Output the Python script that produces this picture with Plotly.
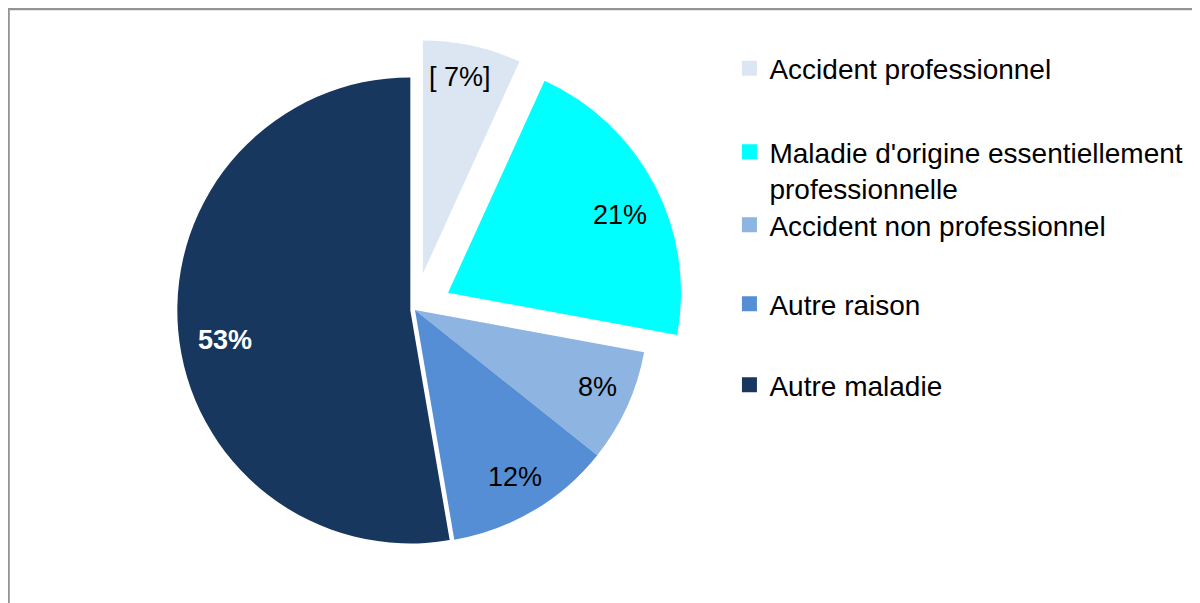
import math
import plotly.graph_objects as go

categories = [
    "Accident professionnel",
    "Maladie d'origine essentiellement<br>professionnelle",
    "Accident non professionnel",
    "Autre raison",
    "Autre maladie",
]
values = [6.8, 21.1, 7.8, 11.6, 52.7]
colors = ["#DCE6F2", "#00FFFF", "#8EB4E2", "#558ED5", "#17375E"]
label_formats = ["[ {}%]", "{}%", "{}%", "{}%", "<b>{}%</b>"]
label_colors = ["black", "black", "black", "black", "white"]
pulls = [0.16, 0.16, 0.0, 0.0, 0.02]

FONT = "Liberation Sans, Arial, sans-serif"
W, H = 1200, 603
DOM_X = [0.1139, 0.5644]
DOM_Y = [0.0509, 0.9474]
# label placement (fraction of radius from slice apex, angle tweak in degrees)
LABEL_R = [0.86, 0.81, 0.85, 0.835, 0.805]
LABEL_DA = [-1.5, 3.1, -1.6, -0.2, -4.1]

fig = go.Figure()
fig.add_trace(go.Pie(
    labels=categories,
    values=values,
    sort=False,
    direction="clockwise",
    rotation=0,
    pull=pulls,
    marker=dict(colors=colors, line=dict(width=0)),
    textinfo="none",
    showlegend=False,
    domain=dict(x=DOM_X, y=DOM_Y),
    hoverinfo="label+percent",
))

# slice labels placed along each slice's mid-angle (same geometry as plotly's pie)
box_w = W * (DOM_X[1] - DOM_X[0])
box_h = H * (DOM_Y[1] - DOM_Y[0])
r = min(box_w, box_h) / (2 + 2 * max(pulls))
cx = W * (DOM_X[0] + DOM_X[1]) / 2
cy = H * (1 - DOM_Y[0]) - box_h / 2
total = sum(values)
annotations = []
cum = 0.0
for i, (v, fmt, col, p) in enumerate(zip(values, label_formats, label_colors, pulls)):
    mid = (cum + v / 2) / total * 2 * math.pi
    cum += v
    # apex of the (possibly pulled) slice
    ax_, ay_ = cx + math.sin(mid) * p * r, cy - math.cos(mid) * p * r
    ang = mid + math.radians(LABEL_DA[i])
    px = ax_ + math.sin(ang) * LABEL_R[i] * r
    py = ay_ - math.cos(ang) * LABEL_R[i] * r
    annotations.append(dict(
        x=px / W, y=1 - py / H, xref="paper", yref="paper",
        text=fmt.format(round(v / total * 100)), showarrow=False,
        xanchor="center", yanchor="middle",
        font=dict(family=FONT, size=27, color=col),
    ))

legend_pos = [0.8997, 0.8027, 0.6402, 0.5091, 0.3748]
legend_names = ["legend", "legend2", "legend3", "legend4", "legend5"]
for i, (name, col) in enumerate(zip(categories, colors)):
    fig.add_trace(go.Scatter(
        x=[None], y=[None], mode="markers", name=name,
        marker=dict(symbol="square", size=15, color=col, line=dict(width=0)),
        legend=legend_names[i], showlegend=True,
    ))

layout_legends = {}
for i, ln in enumerate(legend_names):
    layout_legends[ln] = dict(
        x=0.6012, xanchor="left",
        y=legend_pos[i], yanchor="top" if i == 1 else "middle",
        valign="top",
        font=dict(family=FONT, size=28, color="black"),
        bgcolor="rgba(0,0,0,0)", borderwidth=0,
        itemclick=False, itemdoubleclick=False,
    )

fig.update_layout(
    width=W, height=H,
    margin=dict(l=0, r=0, t=0, b=0),
    paper_bgcolor="white", plot_bgcolor="white",
    xaxis=dict(visible=False), yaxis=dict(visible=False),
    annotations=annotations,
    shapes=[dict(type="rect", xref="paper", yref="paper",
                 x0=0.6 / W, x1=1.02, y0=-0.02, y1=1 - 1.0 / H,
                 line=dict(color="#949494", width=2.4), layer="below")],
    **layout_legends,
)

fig.write_html("out.html")
